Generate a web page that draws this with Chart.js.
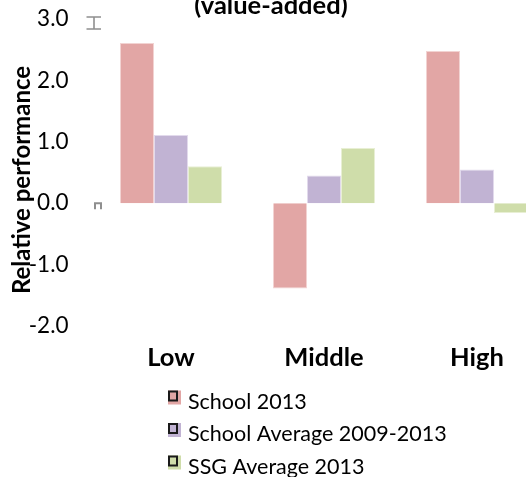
<!DOCTYPE html>
<html>
<head>
<meta charset="utf-8">
<script src="https://cdn.jsdelivr.net/npm/chart.js@4"></script>
<style>
  html, body { margin: 0; padding: 0; background: #fff; overflow: hidden; }
  #wrap { position: relative; width: 526px; height: 477px; overflow: hidden; }
  #c { position: absolute; left: 0; top: 0; }
</style>
</head>
<body>
<div id="wrap"><canvas id="c" width="560" height="477"></canvas></div>
<script>
// Performance bands on the x axis
const categories = ['Low', 'Middle', 'High'];

// Relative performance per band
const school2013 = [2.61, -1.39, 2.48];
const schoolAvg0913 = [1.11, 0.45, 0.55];
const ssgAvg2013 = [0.60, 0.90, -0.16];

const seriesNames = ['School 2013', 'School Average 2009-2013', 'SSG Average 2013'];
const seriesFill = ['#E2A6A5', '#C1B3D3', '#CFDDAA'];
const seriesEdge = ['#F2D3D2', '#E2DAEC', '#E8EFD4'];

// Value axis range and steps
const yMin = -2, yMax = 3, yStep = 1;

const chartTitle = '(value-added)';
const yAxisTitle = 'Relative performance';

const FONT = 'Lato, "Open Sans", sans-serif';

// Title, rotated axis title, stacked legend and the small grey marks by the axis
const decorations = {
  id: 'decorations',
  afterDraw(chart) {
    const ctx = chart.ctx;
    const area = chart.chartArea;
    const y = chart.scales.y;
    ctx.save();

    // chart title (top line runs off the canvas)
    ctx.fillStyle = '#000';
    ctx.font = 'bold 25.5px ' + FONT;
    ctx.textAlign = 'center';
    ctx.textBaseline = 'alphabetic';
    ctx.fillText(chartTitle, 271, 13.5);

    // y axis title
    ctx.save();
    ctx.translate(22, 180);
    ctx.rotate(-Math.PI / 2);
    ctx.font = 'bold 24px ' + FONT;
    ctx.textAlign = 'center';
    ctx.textBaseline = 'middle';
    ctx.fillText(yAxisTitle, 0, 0);
    ctx.restore();

    // grey marks left of the plot
    ctx.strokeStyle = '#8f8f8f';
    ctx.lineWidth = 1.6;
    const xl = area.left;
    const yTop = y.getPixelForValue(yMax);
    ctx.beginPath();
    ctx.moveTo(xl - 8, yTop - 2); ctx.lineTo(xl + 6.5, yTop - 2);
    ctx.moveTo(xl - 8, yTop + 10); ctx.lineTo(xl + 6.5, yTop + 10);
    ctx.moveTo(xl - 0.5, yTop - 2); ctx.lineTo(xl - 0.5, yTop + 10);
    ctx.stroke();
    const y0 = y.getPixelForValue(0);
    ctx.lineWidth = 2;
    ctx.beginPath();
    ctx.moveTo(xl + 0.5, y0 + 6);
    ctx.lineTo(xl + 0.5, y0);
    ctx.lineTo(xl + 6.5, y0);
    ctx.lineTo(xl + 6.5, y0 + 6);
    ctx.stroke();

    // legend, one entry per row
    ctx.font = '21.5px ' + FONT;
    ctx.textAlign = 'left';
    ctx.textBaseline = 'alphabetic';
    chart.data.datasets.forEach((ds, i) => {
      const base = 408.5 + i * 32.5;
      const mx = 168, my = base - 18;
      ctx.fillStyle = ds.backgroundColor;
      ctx.fillRect(mx, my, 13, 14);
      ctx.strokeStyle = '#1a1a1a';
      ctx.lineWidth = 2;
      ctx.strokeRect(mx + 1, my + 1, 8, 9);
      ctx.fillStyle = '#000';
      ctx.fillText(ds.label, 188, base);
    });

    ctx.restore();
  }
};

const datasets = [school2013, schoolAvg0913, ssgAvg2013].map((vals, i) => ({
  label: seriesNames[i],
  data: vals,
  backgroundColor: seriesFill[i],
  borderColor: seriesEdge[i],
  borderWidth: 1,
  categoryPercentage: 102 / 153,
  barPercentage: 1.0
}));

function draw() {
  new Chart(document.getElementById('c'), {
    type: 'bar',
    data: { labels: categories, datasets },
    plugins: [decorations],
    options: {
      responsive: false,
      animation: false,
      layout: { padding: { left: 0, right: 6.5, top: 19, bottom: 101 } },
      plugins: {
        legend: { display: false },
        title: { display: false },
        tooltip: { enabled: false }
      },
      scales: {
        x: {
          grid: { display: false, drawTicks: false },
          border: { display: false },
          ticks: {
            color: '#000',
            padding: 16,
            font: { family: FONT, size: 25.5, weight: 'bold' }
          },
          afterFit(s) {
            s.height = 50;
            s.paddingLeft = 0; s.paddingRight = 0;
          }
        },
        y: {
          min: yMin,
          max: yMax,
          grid: { display: false, drawTicks: false },
          border: { display: false },
          ticks: {
            stepSize: yStep,
            color: '#000',
            padding: 26,
            font: { family: FONT, size: 22.5 },
            callback: v => v.toFixed(1)
          },
          afterFit(s) {
            s.width = 94.5;
            s.paddingTop = 0; s.paddingBottom = 0;
          }
        }
      }
    }
  });
}

if (document.fonts && document.fonts.load) {
  Promise.all([
    document.fonts.load('22px Lato'),
    document.fonts.load('bold 24px Lato')
  ]).then(draw, draw);
} else {
  draw();
}
</script>
</body>
</html>
